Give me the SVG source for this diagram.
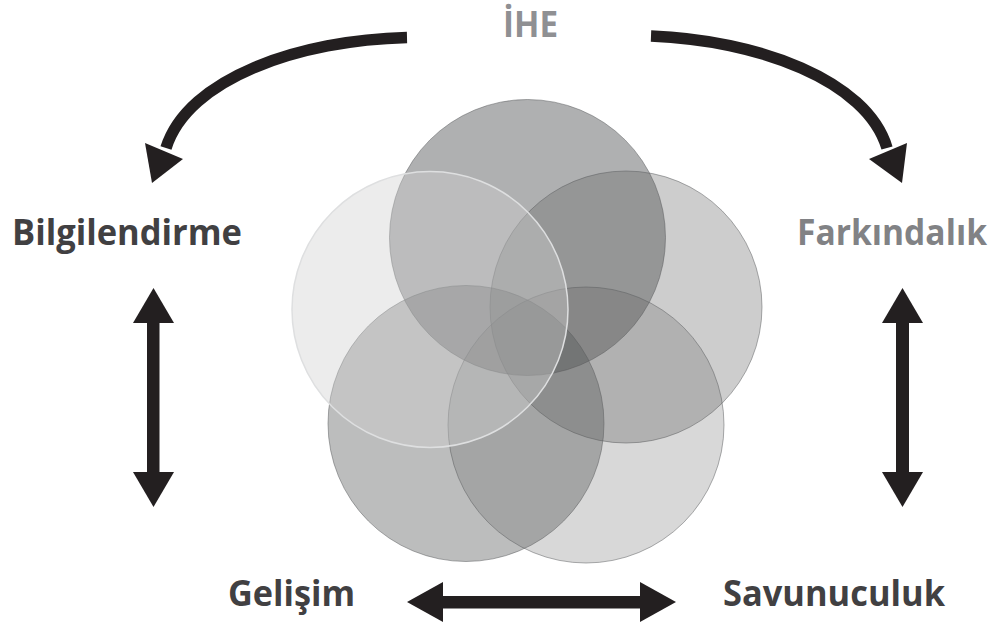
<svg xmlns="http://www.w3.org/2000/svg" width="997" height="625" viewBox="0 0 997 625">
  <style>
    .lbl { font-family: "Open Sans", "Noto Sans", "Liberation Sans", sans-serif; font-weight: 700; font-size: 36px; }
    .dark { fill: #414042; }
    .grey1 { fill: #8f9093; }
    .grey2 { fill: #818285; }
    .circ { fill: #58595b; stroke: #5a5b5e; stroke-opacity: 0.5; stroke-width: 1; }
    .shaft { fill: none; stroke: #231f20; stroke-width: 11.5; }
    .head { fill: #231f20; }
  </style>
  <rect width="997" height="625" fill="#ffffff"/>

  <g id="circles">
    <g id="circle-top"><circle class="circ" cx="527.5" cy="237.5" r="138" fill-opacity="0.48"/></g>
    <g id="circle-right"><circle class="circ" cx="626" cy="307" r="136" fill-opacity="0.3"/></g>
    <g id="circle-bottom-left"><circle class="circ" cx="466" cy="423.5" r="138" fill-opacity="0.4"/></g>
    <g id="circle-bottom-right"><circle class="circ" cx="586" cy="425" r="138" fill-opacity="0.234"/></g>
    <g id="circle-left"><circle cx="430" cy="309.5" r="138" fill="#cfcfd0" fill-opacity="0.4" stroke="#dedfe0" stroke-width="1.5"/></g>
  </g>

  <g id="connectors">
    <!-- top-left curved arrow -->
    <path class="shaft" d="M407,37.5 C300,40 188,78 166,148"/>
    <polygon class="head" points="145,143 183,159 152,183"/>
    <!-- top-right curved arrow -->
    <path class="shaft" d="M651,36 C757,40 867,80 887,148"/>
    <polygon class="head" points="869,159 907,143 902,183"/>
    <!-- left vertical double arrow -->
    <rect class="head" x="147" y="320" width="12.5" height="155"/>
    <polygon class="head" points="153.5,288 174,323 133,323"/>
    <polygon class="head" points="133,472 174,472 153.5,507"/>
    <!-- right vertical double arrow -->
    <rect class="head" x="896" y="320" width="13" height="155"/>
    <polygon class="head" points="902.5,288 923,323 882,323"/>
    <polygon class="head" points="882,472 923,472 902.5,507"/>
    <!-- bottom horizontal double arrow -->
    <rect class="head" x="440" y="596" width="203" height="12.5"/>
    <polygon class="head" points="407,602 443,582 443,622"/>
    <polygon class="head" points="640,582 676,602 640,622"/>
  </g>

  <g id="node-ihe"><text class="lbl grey1" x="503" y="37" textLength="55" lengthAdjust="spacingAndGlyphs">İHE</text></g>
  <g id="node-bilgilendirme"><text class="lbl dark" x="12" y="245" textLength="230" lengthAdjust="spacingAndGlyphs">Bilgilendirme</text></g>
  <g id="node-farkindalik"><text class="lbl grey2" x="797" y="245" font-size="34" textLength="190" lengthAdjust="spacingAndGlyphs">Farkındalık</text></g>
  <g id="node-gelisim"><text class="lbl dark" x="228" y="606" textLength="127" lengthAdjust="spacingAndGlyphs">Gelişim</text></g>
  <g id="node-savunuculuk"><text class="lbl dark" x="723" y="606" textLength="222" lengthAdjust="spacingAndGlyphs">Savunuculuk</text></g>
</svg>
